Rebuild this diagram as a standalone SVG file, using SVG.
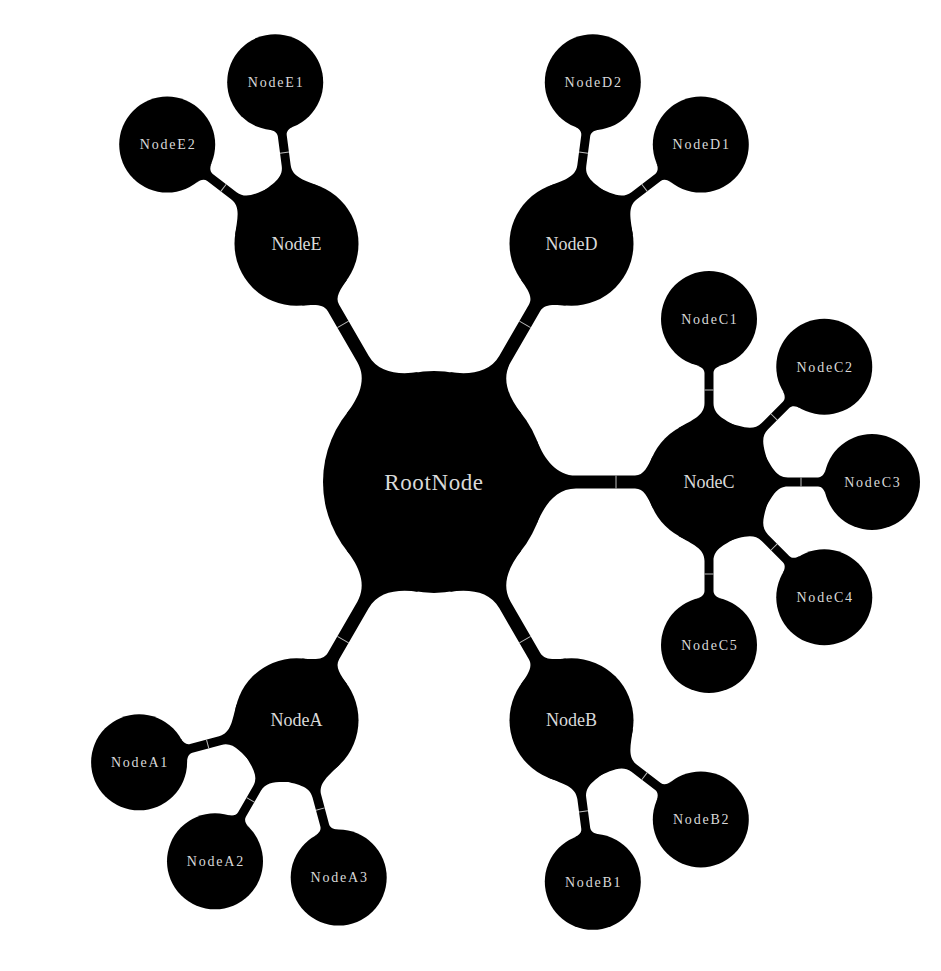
<svg xmlns="http://www.w3.org/2000/svg" xmlns:xlink="http://www.w3.org/1999/xlink" width="941" height="971" viewBox="0 0 941 971">
<style>
.n{fill:#000}
.t{font-family:"Liberation Serif","DejaVu Serif",serif;fill:#d9d9d9;text-anchor:middle}
.t0{font-size:23px;letter-spacing:0.6px}
.t1{font-size:18px}
.t2{font-size:14px;letter-spacing:1.8px}
.tick{stroke:#bdbdbd;stroke-width:1}
</style>
<defs>
<g id="c1">
<path class="n" d="M102.9,-41.6 C110.7,-22.3 122.5,-6.5 142,-6.5 L201,-6.5 C209.9,-6.5 213.7,-15.3 218.8,-26.2 L218.8,26.2 C213.7,15.3 209.9,6.5 201,6.5 L142,6.5 C122.5,6.5 110.7,22.3 102.9,41.6 Z"/>
<line class="tick" x1="182" y1="-6.5" x2="182" y2="6.5"/>
</g>
<g id="c2">
<path class="n" d="M53.7,-31 C62.3,-16.2 66.4,-4.5 79,-4.5 L109,-4.5 C112.8,-4.5 115.4,-7.8 116.6,-12.4 L116.6,12.4 C115.4,7.8 112.8,4.5 109,4.5 L79,4.5 C66.4,4.5 62.3,16.2 53.7,31 Z"/>
<line class="tick" x1="92" y1="-4.5" x2="92" y2="4.5"/>
</g>
</defs>
<rect width="941" height="971" fill="#fff"/>
<g id="connectors">
<use xlink:href="#c1" transform="translate(434,482) rotate(0)"/>
<use xlink:href="#c1" transform="translate(434,482) rotate(-60)"/>
<use xlink:href="#c1" transform="translate(434,482) rotate(-120)"/>
<use xlink:href="#c1" transform="translate(434,482) rotate(120)"/>
<use xlink:href="#c1" transform="translate(434,482) rotate(60)"/>
<use xlink:href="#c2" transform="translate(709,482) rotate(-90)"/>
<use xlink:href="#c2" transform="translate(709,482) rotate(-45)"/>
<use xlink:href="#c2" transform="translate(709,482) rotate(0)"/>
<use xlink:href="#c2" transform="translate(709,482) rotate(45)"/>
<use xlink:href="#c2" transform="translate(709,482) rotate(90)"/>
<use xlink:href="#c2" transform="translate(571.5,243.84) rotate(-37.5)"/>
<use xlink:href="#c2" transform="translate(571.5,243.84) rotate(-82.5)"/>
<use xlink:href="#c2" transform="translate(296.5,243.84) rotate(-97.5)"/>
<use xlink:href="#c2" transform="translate(296.5,243.84) rotate(-142.5)"/>
<use xlink:href="#c2" transform="translate(296.5,720.16) rotate(165)"/>
<use xlink:href="#c2" transform="translate(296.5,720.16) rotate(120)"/>
<use xlink:href="#c2" transform="translate(296.5,720.16) rotate(75)"/>
<use xlink:href="#c2" transform="translate(571.5,720.16) rotate(82.5)"/>
<use xlink:href="#c2" transform="translate(571.5,720.16) rotate(37.5)"/>
</g>
<g id="RootNode"><circle class="n" cx="434" cy="482" r="111"/><text class="t t0" x="434" y="489.5">RootNode</text></g>
<g id="NodeC"><circle class="n" cx="709" cy="482" r="62"/><text class="t t1" x="709" y="488">NodeC</text></g>
<g id="NodeD"><circle class="n" cx="571.5" cy="243.84" r="62"/><text class="t t1" x="571.5" y="249.8">NodeD</text></g>
<g id="NodeE"><circle class="n" cx="296.5" cy="243.84" r="62"/><text class="t t1" x="296.5" y="249.8">NodeE</text></g>
<g id="NodeA"><circle class="n" cx="296.5" cy="720.16" r="62"/><text class="t t1" x="296.5" y="726.1">NodeA</text></g>
<g id="NodeB"><circle class="n" cx="571.5" cy="720.16" r="62"/><text class="t t1" x="571.5" y="726.1">NodeB</text></g>
<g id="NodeC1"><circle class="n" cx="709" cy="319" r="48"/><text class="t t2" x="709.9" y="323.8">NodeC1</text></g>
<g id="NodeC2"><circle class="n" cx="824.26" cy="366.74" r="48"/><text class="t t2" x="825.2" y="371.5">NodeC2</text></g>
<g id="NodeC3"><circle class="n" cx="872" cy="482" r="48"/><text class="t t2" x="872.9" y="486.8">NodeC3</text></g>
<g id="NodeC4"><circle class="n" cx="824.26" cy="597.26" r="48"/><text class="t t2" x="825.2" y="602">NodeC4</text></g>
<g id="NodeC5"><circle class="n" cx="709" cy="645" r="48"/><text class="t t2" x="709.9" y="649.8">NodeC5</text></g>
<g id="NodeD1"><circle class="n" cx="700.8" cy="144.6" r="48"/><text class="t t2" x="701.7" y="149.4">NodeD1</text></g>
<g id="NodeD2"><circle class="n" cx="592.8" cy="82.2" r="48"/><text class="t t2" x="593.7" y="87">NodeD2</text></g>
<g id="NodeE1"><circle class="n" cx="275.2" cy="82.2" r="48"/><text class="t t2" x="276.1" y="87">NodeE1</text></g>
<g id="NodeE2"><circle class="n" cx="167.2" cy="144.6" r="48"/><text class="t t2" x="168.1" y="149.4">NodeE2</text></g>
<g id="NodeA1"><circle class="n" cx="139.1" cy="762.3" r="48"/><text class="t t2" x="140" y="767.1">NodeA1</text></g>
<g id="NodeA2"><circle class="n" cx="215" cy="861.3" r="48"/><text class="t t2" x="215.9" y="866.1">NodeA2</text></g>
<g id="NodeA3"><circle class="n" cx="338.7" cy="877.6" r="48"/><text class="t t2" x="339.6" y="882.4">NodeA3</text></g>
<g id="NodeB1"><circle class="n" cx="592.8" cy="881.8" r="48"/><text class="t t2" x="593.7" y="886.6">NodeB1</text></g>
<g id="NodeB2"><circle class="n" cx="700.8" cy="819.4" r="48"/><text class="t t2" x="701.7" y="824.2">NodeB2</text></g>
</svg>
